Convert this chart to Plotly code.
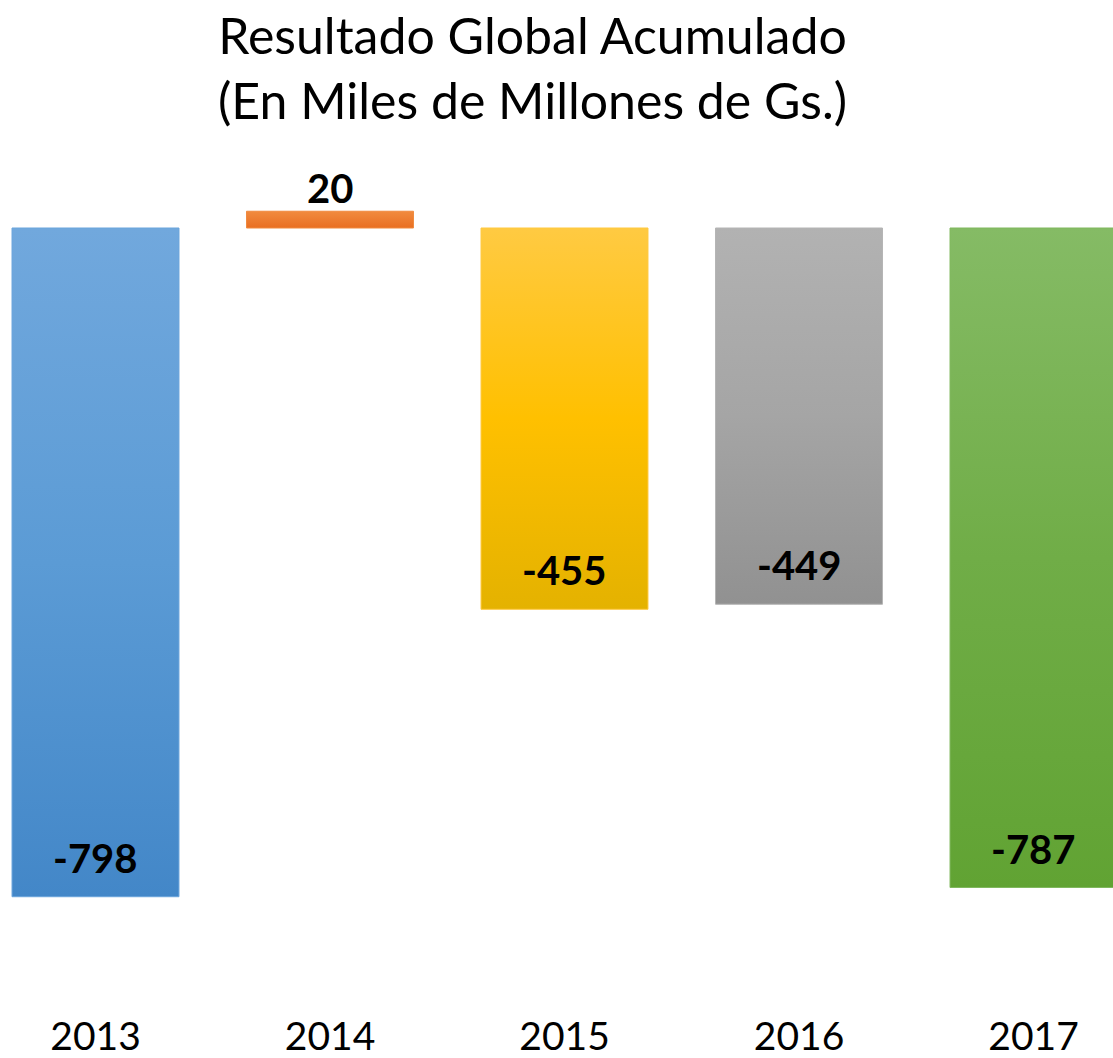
import plotly.graph_objects as go

# data
YEARS = ["2013", "2014", "2015", "2016", "2017"]
VALUES = [-798, 20, -455, -449, -787]
LABELS = ["-798", "20", "-455", "-449", "-787"]

# (bottom/dark, base, top/light) colours, office-style linear gradient
GRADS = [
    ("#4387c8", "#5b9bd5", "#71a8dd"),
    ("#e96f22", "#ed7d31", "#f18b3e"),
    ("#e4b200", "#ffc000", "#ffca42"),
    ("#919191", "#a5a5a5", "#b2b2b2"),
    ("#61a333", "#70ad47", "#85bb65"),
]
EDGES = ["#6aa5dc", "#f08a3e", "#ffc940", "#b4b4b4", "#80b85e"]

FONT = "Lato, Arial, sans-serif"
BAR_W = 0.712

fig = go.Figure()
for i, (yr, v) in enumerate(zip(YEARS, VALUES)):
    x0, x1 = i - BAR_W / 2, i + BAR_W / 2
    dark, base, light = GRADS[i]
    fig.add_trace(go.Scatter(
        x=[x0, x1, x1, x0, x0], y=[0, 0, v, v, 0],
        mode="lines", fill="toself",
        fillgradient=dict(type="vertical",
                          colorscale=[[0, dark], [0.5, base], [1, light]]),
        line=dict(color=EDGES[i], width=1),
        hoverinfo="skip", showlegend=False, name=yr,
    ))
    # data labels: inside end for negatives, outside for positives
    fig.add_annotation(
        x=i, y=v, text=f"<b>{LABELS[i]}</b>", showarrow=False,
        xanchor="center", yanchor="middle",
        yshift=39 if v < 0 else 23,
        font=dict(family=FONT, size=40, color="#000000"),
    )

fig.update_layout(
    width=1113, height=1058,
    paper_bgcolor="#FFFFFF", plot_bgcolor="#FFFFFF",
    margin=dict(l=0, r=0, t=0, b=60),
    title=dict(
        text="Resultado Global Acumulado<br>(En Miles de Millones de Gs.)",
        x=532.5 / 1113, xanchor="center", xref="container",
        y=1 - 54 / 1058, yanchor="top", yref="container",
        font=dict(family=FONT, size=50, color="#000000"),
    ),
    font=dict(family=FONT, color="#000000"),
)
fig.update_xaxes(
    range=[-95.5 / 234.5, (1113 - 95.5) / 234.5],
    tickmode="array", tickvals=list(range(len(YEARS))), ticktext=YEARS,
    tickfont=dict(family=FONT, size=39, color="#000000"),
    ticklabelstandoff=12, automargin=False,
    showgrid=False, zeroline=False, showline=False, ticks="",
)
fig.update_yaxes(
    range=[-770 / 0.838, 228 / 0.838],
    visible=False, showgrid=False, zeroline=False, automargin=False,
)

fig.write_html(
    "out.html",
    config={"displayModeBar": False},
    post_script="document.body.style.margin='0';document.body.style.overflow='hidden';",
)
